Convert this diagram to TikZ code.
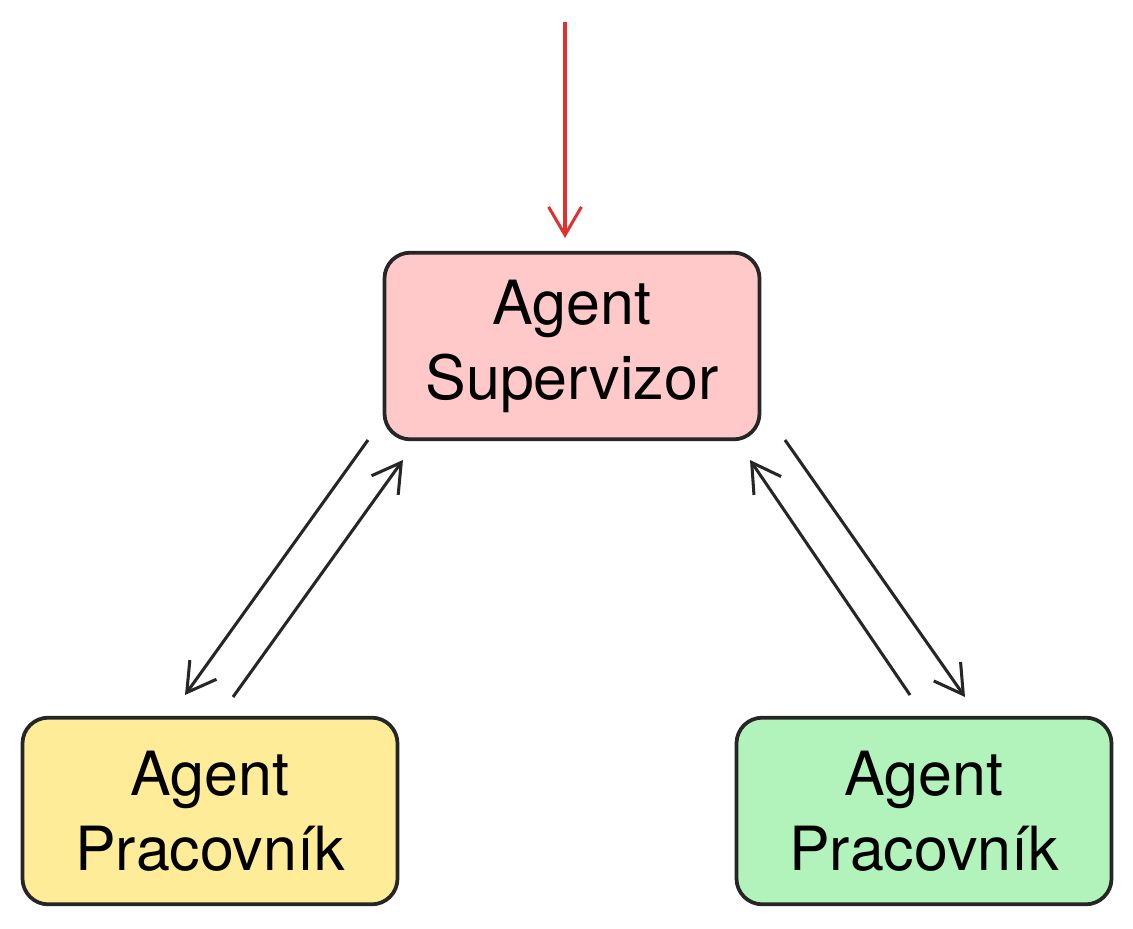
\documentclass[tikz,border=0pt]{standalone}
\usepackage{fontspec}
\setmainfont{TeX Gyre Heros}
\usetikzlibrary{arrows.meta}
\begin{document}
\begin{tikzpicture}[x=0.03cm,y=-0.03cm,
  box/.style={draw=black!85,line width=3.2pt,rounded corners=22pt,minimum width=11.25cm,minimum height=5.6cm,align=center,font=\fontsize{52}{64}\selectfont},
  arr/.style={line width=2.6pt,draw=black!85,-{Straight Barb[length=24pt,width=28pt,line width=2.6pt]}}]
\useasboundingbox (0,0) rectangle (1133,928);
\fill[white] (0,0) rectangle (1133,928);
\node[box,fill={rgb,255:red,255;green,201;blue,201}] (sup) at (572,346) {Agent\\Supervizor};
\node[box,fill={rgb,255:red,255;green,236;blue,153}] (w1) at (210,811) {Agent\\Pracovník};
\node[box,fill={rgb,255:red,178;green,242;blue,187}] (w2) at (924,811) {Agent\\Pracovník};
\coordinate (in) at (565,22);
\coordinate (inE) at (565,238);
\coordinate (a1) at (368,440); \coordinate (a2) at (185,695);
\coordinate (b1) at (233,697); \coordinate (b2) at (403,460);
\coordinate (c1) at (785,440); \coordinate (c2) at (965,697);
\coordinate (d1) at (910,695); \coordinate (d2) at (750,460);
\draw[arr,draw={rgb,255:red,224;green,49;blue,49}] (in) -- (inE);
\draw[arr] (a1) -- (a2);
\draw[arr] (b1) -- (b2);
\draw[arr] (c1) -- (c2);
\draw[arr] (d1) -- (d2);
\end{tikzpicture}
\end{document}
